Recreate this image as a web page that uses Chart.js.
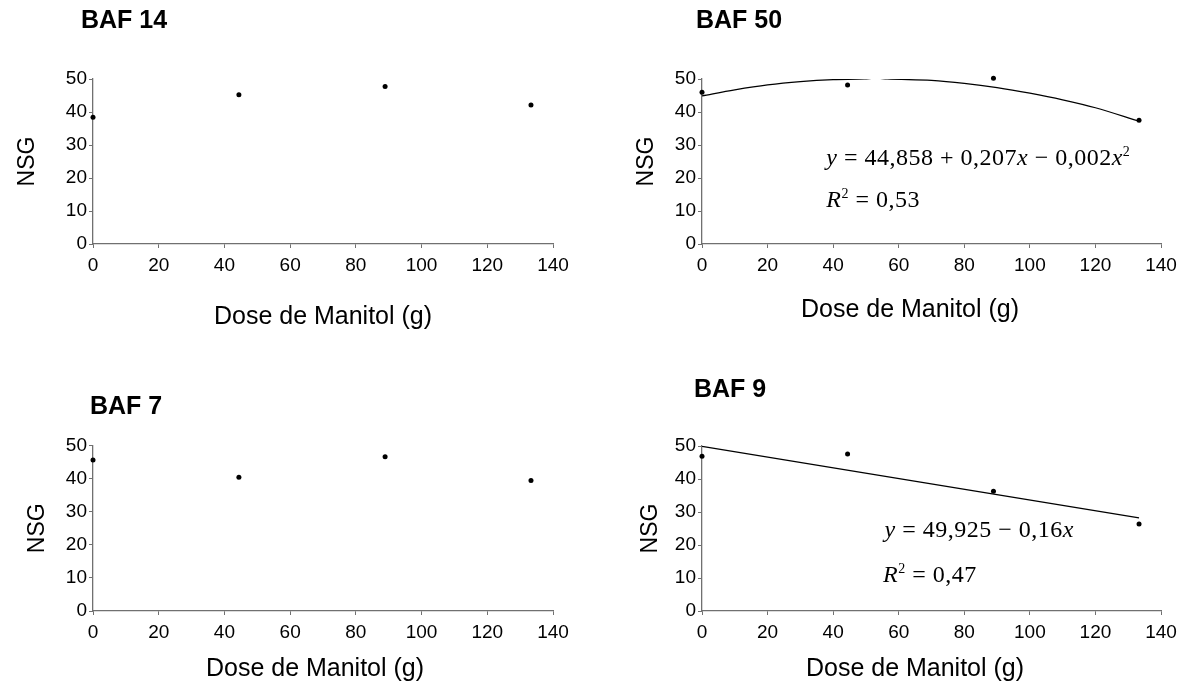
<!DOCTYPE html>
<html>
<head>
<meta charset="utf-8">
<script src="https://cdn.jsdelivr.net/npm/chart.js@4.4.1/dist/chart.umd.min.js"></script>
<style>
  body { margin: 0; background: #fff; width: 1188px; height: 684px; position: relative; overflow: hidden; }
  canvas { position: absolute; }
</style>
</head>
<body>
<canvas id="baf14" width="594" height="340" style="left:0;top:0"></canvas>
<canvas id="baf50" width="594" height="340" style="left:594px;top:0"></canvas>
<canvas id="baf7" width="594" height="344" style="left:0;top:340px"></canvas>
<canvas id="baf9" width="594" height="344" style="left:594px;top:340px"></canvas>
<script>
// Dose de manitol (g)
const doses = [0, 44.4, 88.9, 133.3];

// NSG por acesso
const nsgBaf14 = [38.4, 45.2, 47.7, 42.1];
const nsgBaf50 = [46.0, 48.2, 50.2, 37.5];
const nsgBaf7 = [45.6, 40.4, 46.6, 39.4];
const nsgBaf9 = [46.9, 47.6, 36.3, 26.4];

// curvas ajustadas
const fit50X = [0, 10, 20, 30, 40, 49.5, 53, 56.5, 70, 80, 90, 100, 110, 120, 133.3];
const fit50Y = [44.9, 46.7, 48.2, 49.2, 49.8, 50.0, 50.25, 50.0, 49.6, 48.7, 47.4, 45.7, 43.7, 41.3, 37.2];
const fit9X = [0, 133.3];
const fit9Y = [49.9, 28.2];

const xTitle = 'Dose de Manitol (g)';
const yTitle = 'NSG';

Chart.defaults.font.family = '"Liberation Sans", Arial, sans-serif';
Chart.defaults.color = '#000';

const toXY = (xs, ys) => xs.map((x, i) => ({ x: x, y: ys[i] }));

// titulos, eixo x e equacoes
const textPlugin = {
  id: 'panelText',
  afterDraw(chart, args, opts) {
    const ctx = chart.ctx;
    const xs = chart.scales.x, ys = chart.scales.y;
    ctx.save();
    ctx.fillStyle = '#000';
    ctx.textBaseline = 'middle';
    ctx.textAlign = 'left';
    ctx.font = 'bold 25px "Liberation Sans", Arial, sans-serif';
    ctx.fillText(opts.title, opts.titleX, opts.titleY);

    ctx.textAlign = 'center';
    ctx.font = '25px "Liberation Sans", Arial, sans-serif';
    ctx.fillText(xTitle, opts.xTitleX, opts.xTitleY);

    ctx.textAlign = 'left';
    ctx.textBaseline = 'alphabetic';
    ctx.letterSpacing = '0.5px';
    (opts.eqs || []).forEach(eq => {
      let px = xs.getPixelForValue(eq.at[0]);
      const py = ys.getPixelForValue(eq.at[1]);
      eq.parts.forEach(([t, s]) => {
        const size = s === 'sup' ? 14 : 24;
        ctx.font = (s === 'i' ? 'italic ' : '') + size + 'px "Liberation Serif", "Times New Roman", serif';
        ctx.fillText(t, px, s === 'sup' ? py - 9 : py);
        px += ctx.measureText(t).width;
      });
    });
    ctx.restore();
  }
};

function makePanel(id, o) {
  const datasets = [{
    type: 'scatter',
    data: toXY(doses, o.values),
    pointRadius: 2.5,
    pointBackgroundColor: '#000',
    pointBorderWidth: 0,
    clip: false
  }];
  if (o.fitX) {
    datasets.push({
      type: 'line',
      data: toXY(o.fitX, o.fitY),
      borderColor: '#000',
      borderWidth: 1.2,
      pointRadius: 0,
      cubicInterpolationMode: 'monotone',
      fill: false
    });
  }
  const canvas = document.getElementById(id);
  return new Chart(canvas, {
    data: { datasets },
    options: {
      responsive: false,
      animation: false,
      devicePixelRatio: 1,
      layout: { padding: { left: 0, top: o.area.top, right: canvas.width - o.area.right, bottom: 0 } },
      plugins: {
        legend: { display: false },
        tooltip: { enabled: false },
        panelText: {
          title: o.title, titleX: o.titleX, titleY: o.titleY,
          xTitleX: o.xTitleX, xTitleY: o.xTitleY, eqs: o.eqs
        }
      },
      scales: {
        x: {
          type: 'linear',
          min: 0, max: 140,
          ticks: { stepSize: 20, padding: 6, font: { size: 19 } },
          grid: { drawOnChartArea: false, tickLength: 4, color: '#707070' },
          border: { color: '#707070', width: 1.3 },
          title: { display: false, text: xTitle },
          afterFit: s => { s.height = canvas.height - o.area.bottom; }
        },
        y: {
          min: 0, max: 50,
          ticks: { stepSize: 10, padding: 2, font: { size: 19 } },
          grid: { drawOnChartArea: false, tickLength: 4, color: '#707070' },
          border: { color: '#707070', width: 1.3 },
          title: { display: true, text: yTitle, font: { size: 23 }, padding: { top: o.yTitlePad, bottom: 0 } },
          afterFit: s => { s.width = o.area.left; }
        }
      }
    },
    plugins: [textPlugin]
  });
}

makePanel('baf14', {
  values: nsgBaf14, title: 'BAF 14', titleX: 81, titleY: 21,
  area: { left: 93, right: 553, top: 79, bottom: 244 },
  xTitleX: 323, xTitleY: 317, yTitlePad: 14
});

makePanel('baf50', {
  values: nsgBaf50, fitX: fit50X, fitY: fit50Y, title: 'BAF 50', titleX: 102, titleY: 21,
  area: { left: 108, right: 567, top: 79, bottom: 244 },
  xTitleX: 316, xTitleY: 310, yTitlePad: 39,
  eqs: [
    { at: [37.9, 23.9], parts: [['y', 'i'], [' = 44,858 + 0,207', 'n'], ['x', 'i'], [' \u2212 0,002', 'n'], ['x', 'i'], ['2', 'sup']] },
    { at: [37.9, 11.3], parts: [['R', 'i'], ['2', 'sup'], [' = 0,53', 'n']] }
  ]
});

makePanel('baf7', {
  values: nsgBaf7, title: 'BAF 7', titleX: 90, titleY: 67,
  area: { left: 93, right: 553, top: 105.5, bottom: 271 },
  xTitleX: 315, xTitleY: 329, yTitlePad: 24
});

makePanel('baf9', {
  values: nsgBaf9, fitX: fit9X, fitY: fit9Y, title: 'BAF 9', titleX: 100, titleY: 50,
  area: { left: 108, right: 567, top: 106, bottom: 271 },
  xTitleX: 321, xTitleY: 329, yTitlePad: 43,
  eqs: [
    { at: [55.7, 22.5], parts: [['y', 'i'], [' = 49,925 \u2212 0,16', 'n'], ['x', 'i']] },
    { at: [55.2, 8.9], parts: [['R', 'i'], ['2', 'sup'], [' = 0,47', 'n']] }
  ]
});
</script>
</body>
</html>
